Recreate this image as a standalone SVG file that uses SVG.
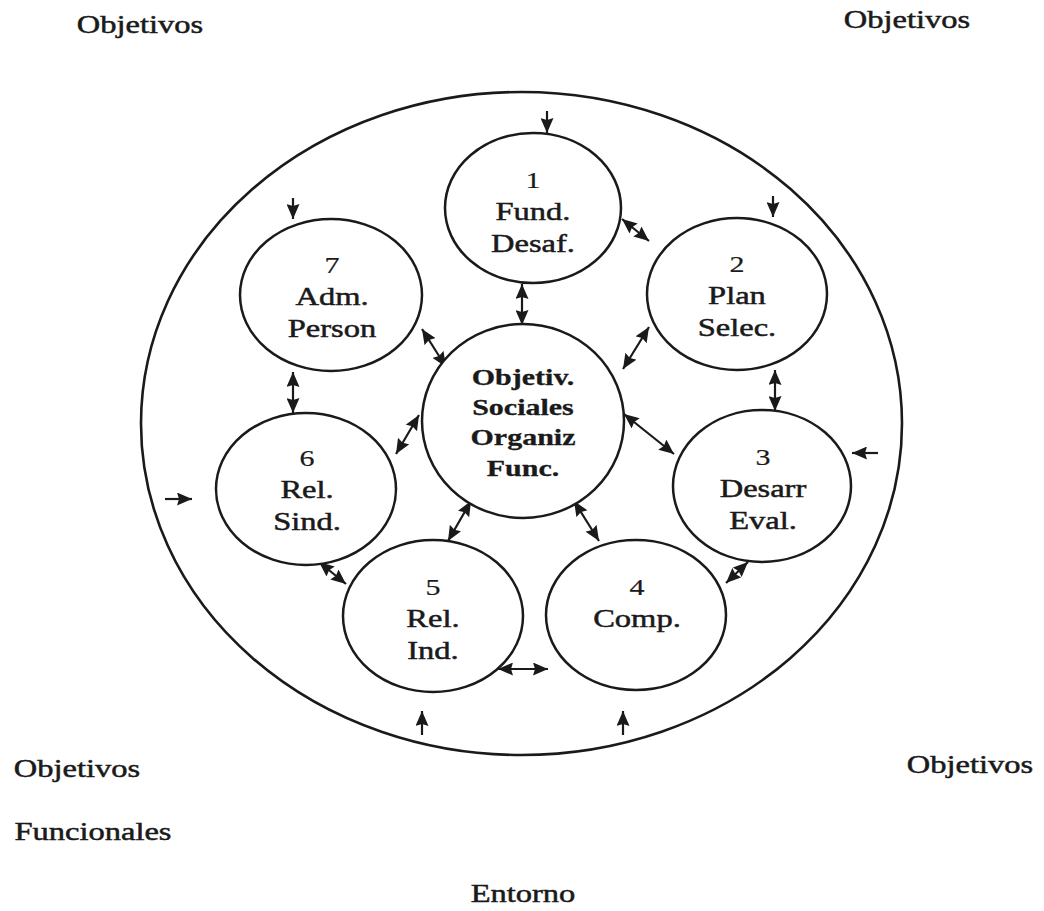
<svg xmlns="http://www.w3.org/2000/svg" width="1044" height="911" viewBox="0 0 1044 911">
<defs>
<style>
.bg{fill:#ffffff}
.ring{fill:none;stroke:#1a1a1a;stroke-width:2.6}
.node{fill:#ffffff;stroke:#1a1a1a;stroke-width:2.5}
.lbl{font-family:"Liberation Serif","Times New Roman",serif;font-size:26px;fill:#1a1a1a;stroke:#1a1a1a;stroke-width:0.5;text-anchor:middle;transform-box:fill-box;transform-origin:center;transform:scaleX(1.25)}
.num{font-size:24px;stroke-width:0.2}
.ctr{font-weight:bold;font-size:24px;stroke-width:0.3}
.c{stroke:#1a1a1a;stroke-width:2.2;fill:none;marker-end:url(#ah)}
.c2{marker-start:url(#ahs)}
</style>
<marker id="ah" viewBox="0 0 15 13" refX="15" refY="6.5" markerWidth="15" markerHeight="13" markerUnits="userSpaceOnUse" orient="auto">
<path d="M0,0 L15,6.5 L0,13 L2,6.5 Z" fill="#1a1a1a"/>
</marker>
<marker id="ahs" viewBox="0 0 15 13" refX="15" refY="6.5" markerWidth="15" markerHeight="13" markerUnits="userSpaceOnUse" orient="auto-start-reverse">
<path d="M0,0 L15,6.5 L0,13 L2,6.5 Z" fill="#1a1a1a"/>
</marker>
</defs>
<rect class="bg" x="0" y="0" width="1044" height="911"/>

<g id="entorno">
<ellipse class="ring" cx="521.5" cy="423.5" rx="380.5" ry="331.5"/>
</g>

<g id="labels">
<text class="lbl" x="140" y="33">Objetivos</text>
<text class="lbl" x="907" y="28">Objetivos</text>
<text class="lbl" x="77" y="777">Objetivos</text>
<text class="lbl" x="93" y="840">Funcionales</text>
<text class="lbl" x="970" y="773">Objetivos</text>
<text class="lbl" x="523" y="902">Entorno</text>
</g>

<g id="connectors">
<line class="c" x1="547" y1="111" x2="547" y2="133"/>
<line class="c" x1="293" y1="198" x2="293" y2="219"/>
<line class="c" x1="773" y1="196" x2="773" y2="217"/>
<line class="c" x1="878" y1="453" x2="852" y2="453"/>
<line class="c" x1="165" y1="499" x2="192" y2="499"/>
<line class="c" x1="422" y1="735" x2="422" y2="711"/>
<line class="c" x1="623" y1="735" x2="623" y2="711"/>

<line class="c c2" x1="522" y1="284" x2="522" y2="325"/>
<line class="c c2" x1="293" y1="372" x2="293" y2="413"/>
<line class="c c2" x1="775" y1="370" x2="775" y2="411"/>
<line class="c c2" x1="422" y1="329" x2="446" y2="367"/>
<line class="c c2" x1="419" y1="415" x2="396" y2="454"/>
<line class="c c2" x1="649" y1="327" x2="623" y2="369"/>
<line class="c c2" x1="624" y1="414" x2="674" y2="454"/>
<line class="c c2" x1="471" y1="501" x2="448" y2="541"/>
<line class="c c2" x1="574" y1="501" x2="599" y2="541"/>
<line class="c c2" x1="498" y1="669" x2="548" y2="669"/>
<line class="c c2" x1="622" y1="219" x2="649" y2="241"/>
<line class="c c2" x1="319" y1="562" x2="346" y2="584"/>
<line class="c c2" x1="748" y1="562" x2="726" y2="583"/>
</g>

<g id="n1">
<ellipse class="node" cx="533" cy="208" rx="88" ry="75"/>
<text class="lbl num" x="533" y="188">1</text>
<text class="lbl" x="533" y="220">Fund.</text>
<text class="lbl" x="533" y="252">Desaf.</text>
</g>
<g id="n2">
<ellipse class="node" cx="737" cy="294" rx="90" ry="76"/>
<text class="lbl num" x="737" y="272">2</text>
<text class="lbl" x="737" y="304">Plan</text>
<text class="lbl" x="737" y="336">Selec.</text>
</g>
<g id="n3">
<ellipse class="node" cx="762" cy="486" rx="89" ry="76"/>
<text class="lbl num" x="763" y="465">3</text>
<text class="lbl" x="763" y="497">Desarr</text>
<text class="lbl" x="763" y="529">Eval.</text>
</g>
<g id="n4">
<ellipse class="node" cx="636" cy="615" rx="90" ry="75"/>
<text class="lbl num" x="637" y="595">4</text>
<text class="lbl" x="637" y="627">Comp.</text>
</g>
<g id="n5">
<ellipse class="node" cx="433" cy="616" rx="90" ry="76"/>
<text class="lbl num" x="433" y="595">5</text>
<text class="lbl" x="433" y="627">Rel.</text>
<text class="lbl" x="433" y="659">Ind.</text>
</g>
<g id="n6">
<ellipse class="node" cx="306" cy="489" rx="90" ry="76"/>
<text class="lbl num" x="307" y="466">6</text>
<text class="lbl" x="307" y="498">Rel.</text>
<text class="lbl" x="307" y="530">Sind.</text>
</g>
<g id="n7">
<ellipse class="node" cx="331" cy="295" rx="91" ry="76"/>
<text class="lbl num" x="332" y="273">7</text>
<text class="lbl" x="332" y="305">Adm.</text>
<text class="lbl" x="332" y="337">Person</text>
</g>
<g id="center">
<ellipse class="node" cx="523" cy="421" rx="101" ry="97"/>
<text class="lbl ctr" x="523" y="385">Objetiv.</text>
<text class="lbl ctr" x="523" y="415">Sociales</text>
<text class="lbl ctr" x="523" y="445">Organiz</text>
<text class="lbl ctr" x="523" y="476">Func.</text>
</g>
</svg>
